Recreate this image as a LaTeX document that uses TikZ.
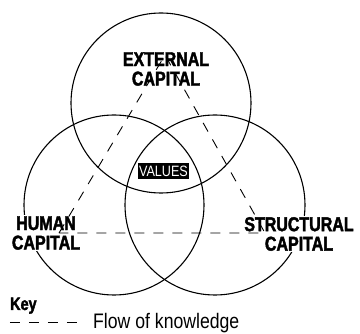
\documentclass[tikz,border=0pt]{standalone}
\usepackage{fontspec}
\setmainfont{Liberation Sans}[FakeStretch=0.84,
  BoldFont={Liberation Sans Bold}, BoldFeatures={FakeStretch=0.8, FakeBold=2}]
\tikzset{
  capital/.style = {circle, draw, line width=1.1pt,
                    minimum size=180pt, inner sep=0pt},
  capname/.style = {align=center, fill=white, inner sep=1pt,
                    font=\bfseries\fontsize{20}{19.5}\selectfont},
  core/.style    = {fill=black, text=white, inner xsep=1.5pt, inner ysep=3pt,
                    font=\fontsize{15}{16}\selectfont},
  flow/.style    = {dash pattern=on 10pt off 9pt, line width=0.9pt},
  keytext/.style = {anchor=base west, inner sep=0pt}
}

\begin{document}
\begin{tikzpicture}
  [
    x=1pt, y=-1pt
  ]
  \useasboundingbox (0,0) rectangle (360,334);
  % the three circles
  \node [capital] (ext) at (161,103) {};
  \node [capital] (hum) at (114,205) {};
  \node [capital] (str) at (215,205) {};
  % names
  \node [capname] (extname) at (166,69)    {EXTERNAL\\CAPITAL};
  \node [capname] (humname) at (46,233)    {HUMAN\\CAPITAL};
  \node [capname] (strname) at (299,234)   {STRUCTURAL\\CAPITAL};
  \node [core]    (values)  at (163.5,171) {VALUES};
  % knowledge flows
  \coordinate (hv) at (59,233);
  \coordinate (ev) at (165,55);
  \coordinate (sv) at (265,233);
  \draw [flow] (hv) -- (ev) -- (sv) -- cycle;
  % key
  \node [keytext, font=\bfseries\fontsize{18}{20}\selectfont] (key) at (10,310) {Key};
  \coordinate (k1) at (10,322);
  \coordinate (k2) at (82,322);
  \draw [flow] (k1) -- (k2);
  \node [keytext, font=\fontsize{21}{22}\selectfont] (flowtext) at (93,328.5) {Flow of knowledge};
\end{tikzpicture}
\end{document}
